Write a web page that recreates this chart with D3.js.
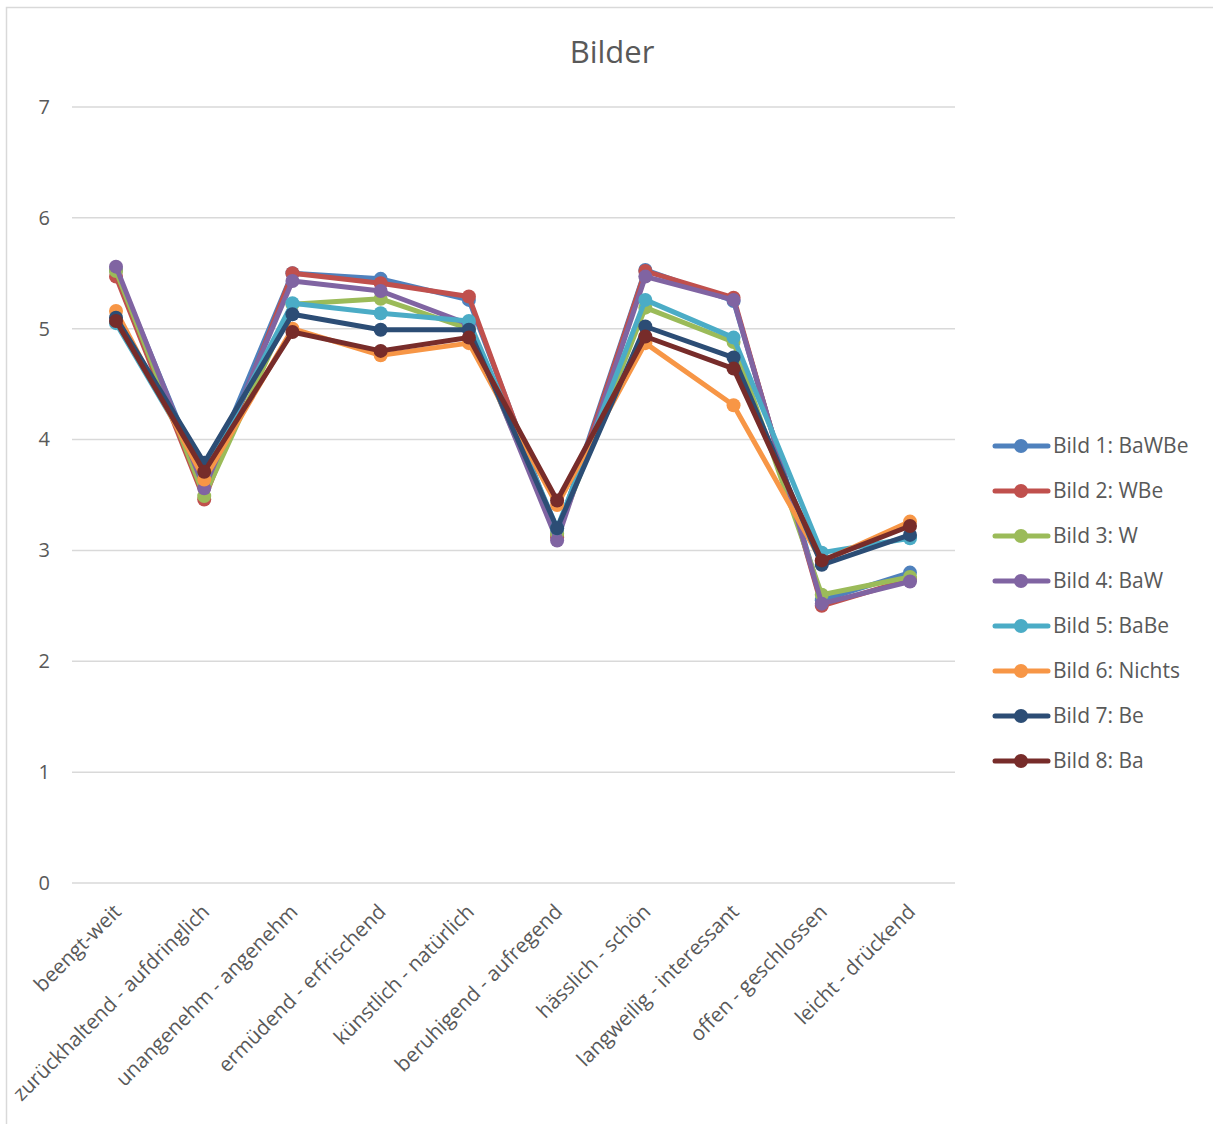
<!DOCTYPE html>
<html>
<head>
<meta charset="utf-8">
<script src="https://cdn.jsdelivr.net/npm/d3@7"></script>
<style>
	body { margin: 0; background: #fff; }
	text { font-family: "Open Sans", sans-serif; fill: #595959; }
</style>
</head>
<body>
<script>
// categories on the x axis
const categories = [
	"beengt-weit",
	"zurückhaltend - aufdringlich",
	"unangenehm - angenehm",
	"ermüdend - erfrischend",
	"künstlich - natürlich",
	"beruhigend - aufregend",
	"hässlich - schön",
	"langweilig - interessant",
	"offen - geschlossen",
	"leicht - drückend"
];

// series names and values
const seriesNames = ["Bild 1: BaWBe", "Bild 2: WBe", "Bild 3: W", "Bild 4: BaW", "Bild 5: BaBe", "Bild 6: Nichts", "Bild 7: Be", "Bild 8: Ba"];
const bild1 = [5.53, 3.60, 5.50, 5.45, 5.26, 3.15, 5.53, 5.25, 2.55, 2.80];
const bild2 = [5.47, 3.46, 5.50, 5.41, 5.29, 3.12, 5.52, 5.28, 2.50, 2.74];
const bild3 = [5.52, 3.49, 5.22, 5.27, 5.00, 3.15, 5.19, 4.88, 2.60, 2.76];
const bild4 = [5.56, 3.56, 5.43, 5.34, 5.04, 3.09, 5.47, 5.26, 2.52, 2.72];
const bild5 = [5.05, 3.70, 5.23, 5.14, 5.07, 3.20, 5.26, 4.92, 2.98, 3.11];
const bild6 = [5.16, 3.64, 5.00, 4.76, 4.87, 3.41, 4.87, 4.31, 2.90, 3.26];
const bild7 = [5.10, 3.79, 5.13, 4.99, 4.99, 3.20, 5.02, 4.74, 2.87, 3.14];
const bild8 = [5.07, 3.71, 4.97, 4.80, 4.92, 3.45, 4.93, 4.64, 2.91, 3.22];
const seriesValues = [bild1, bild2, bild3, bild4, bild5, bild6, bild7, bild8];
const colors = ["#4F81BD", "#C0504D", "#9BBB59", "#8064A2", "#4BACC6", "#F79646", "#2C4D75", "#772C2A"];

// y tick labels
const yTicks = [0, 1, 2, 3, 4, 5, 6, 7];

const w = 1213;
const h = 1124;

const svg = d3.select("body").append("svg").attr("width", w).attr("height", h);

// chart frame
svg.append("rect")
	.attr("x", 6.5).attr("y", 7.5)
	.attr("width", 1240).attr("height", 1140)
	.attr("fill", "none").attr("stroke", "#d9d9d9").attr("stroke-width", 1.5);

// title
svg.append("text")
	.attr("x", 612).attr("y", 63)
	.attr("text-anchor", "middle")
	.style("font-size", "31px")
	.text("Bilder");

const xScale = d3.scalePoint().domain(categories).range([116, 910]);
const yScale = d3.scaleLinear().domain([0, 7]).range([883, 107]);

// gridlines
svg.append("g")
	.selectAll("line")
	.data(yTicks)
	.join("line")
	.attr("x1", 72).attr("x2", 955)
	.attr("y1", (d) => yScale(d)).attr("y2", (d) => yScale(d))
	.attr("stroke", "#d9d9d9").attr("stroke-width", 1.5);

// y axis labels
const yAxis = d3.axisLeft(yScale).tickValues(yTicks).tickFormat(d3.format("d")).tickSize(0).tickPadding(0);
svg.append("g")
	.attr("transform", "translate(50,0)")
	.call(yAxis)
	.call((g) => g.select(".domain").remove())
	.selectAll("text")
	.style("font-size", "20px")
	.attr("fill", "#595959");

// x axis labels, rotated
const xAxis = d3.axisBottom(xScale).tickSize(0).tickPadding(0);
svg.append("g")
	.attr("transform", "translate(0,883)")
	.call(xAxis)
	.call((g) => g.select(".domain").remove())
	.selectAll("text")
	.style("font-size", "20.5px")
	.attr("fill", "#595959")
	.attr("text-anchor", "end")
	.attr("dy", null)
	.attr("y", 0)
	.attr("transform", "translate(6,30) rotate(-45)");

// lines
const line = d3.line()
	.x((d, i) => xScale(categories[i]))
	.y((d) => yScale(d));

const groups = svg.append("g")
	.selectAll("g")
	.data(seriesValues)
	.join("g");

groups.append("path")
	.attr("d", (d) => line(d))
	.attr("fill", "none")
	.attr("stroke", (d, i) => colors[i])
	.attr("stroke-width", 5)
	.attr("stroke-linejoin", "round");

groups.each(function (vals, i) {
	d3.select(this)
		.selectAll("circle")
		.data(vals)
		.join("circle")
		.attr("cx", (d, j) => xScale(categories[j]))
		.attr("cy", (d) => yScale(d))
		.attr("r", 7)
		.attr("fill", colors[i]);
});

// legend
const legend = svg.append("g")
	.selectAll("g")
	.data(seriesNames)
	.join("g")
	.attr("transform", (d, i) => `translate(0, ${446 + i * 45})`);

legend.append("line")
	.attr("x1", 995).attr("x2", 1048)
	.attr("stroke", (d, i) => colors[i])
	.attr("stroke-width", 5)
	.attr("stroke-linecap", "round");

legend.append("circle")
	.attr("cx", 1021).attr("r", 7)
	.attr("fill", (d, i) => colors[i]);

legend.append("text")
	.attr("x", 1053).attr("y", 7)
	.style("font-size", "21px")
	.text((d) => d);
</script>
</body>
</html>
